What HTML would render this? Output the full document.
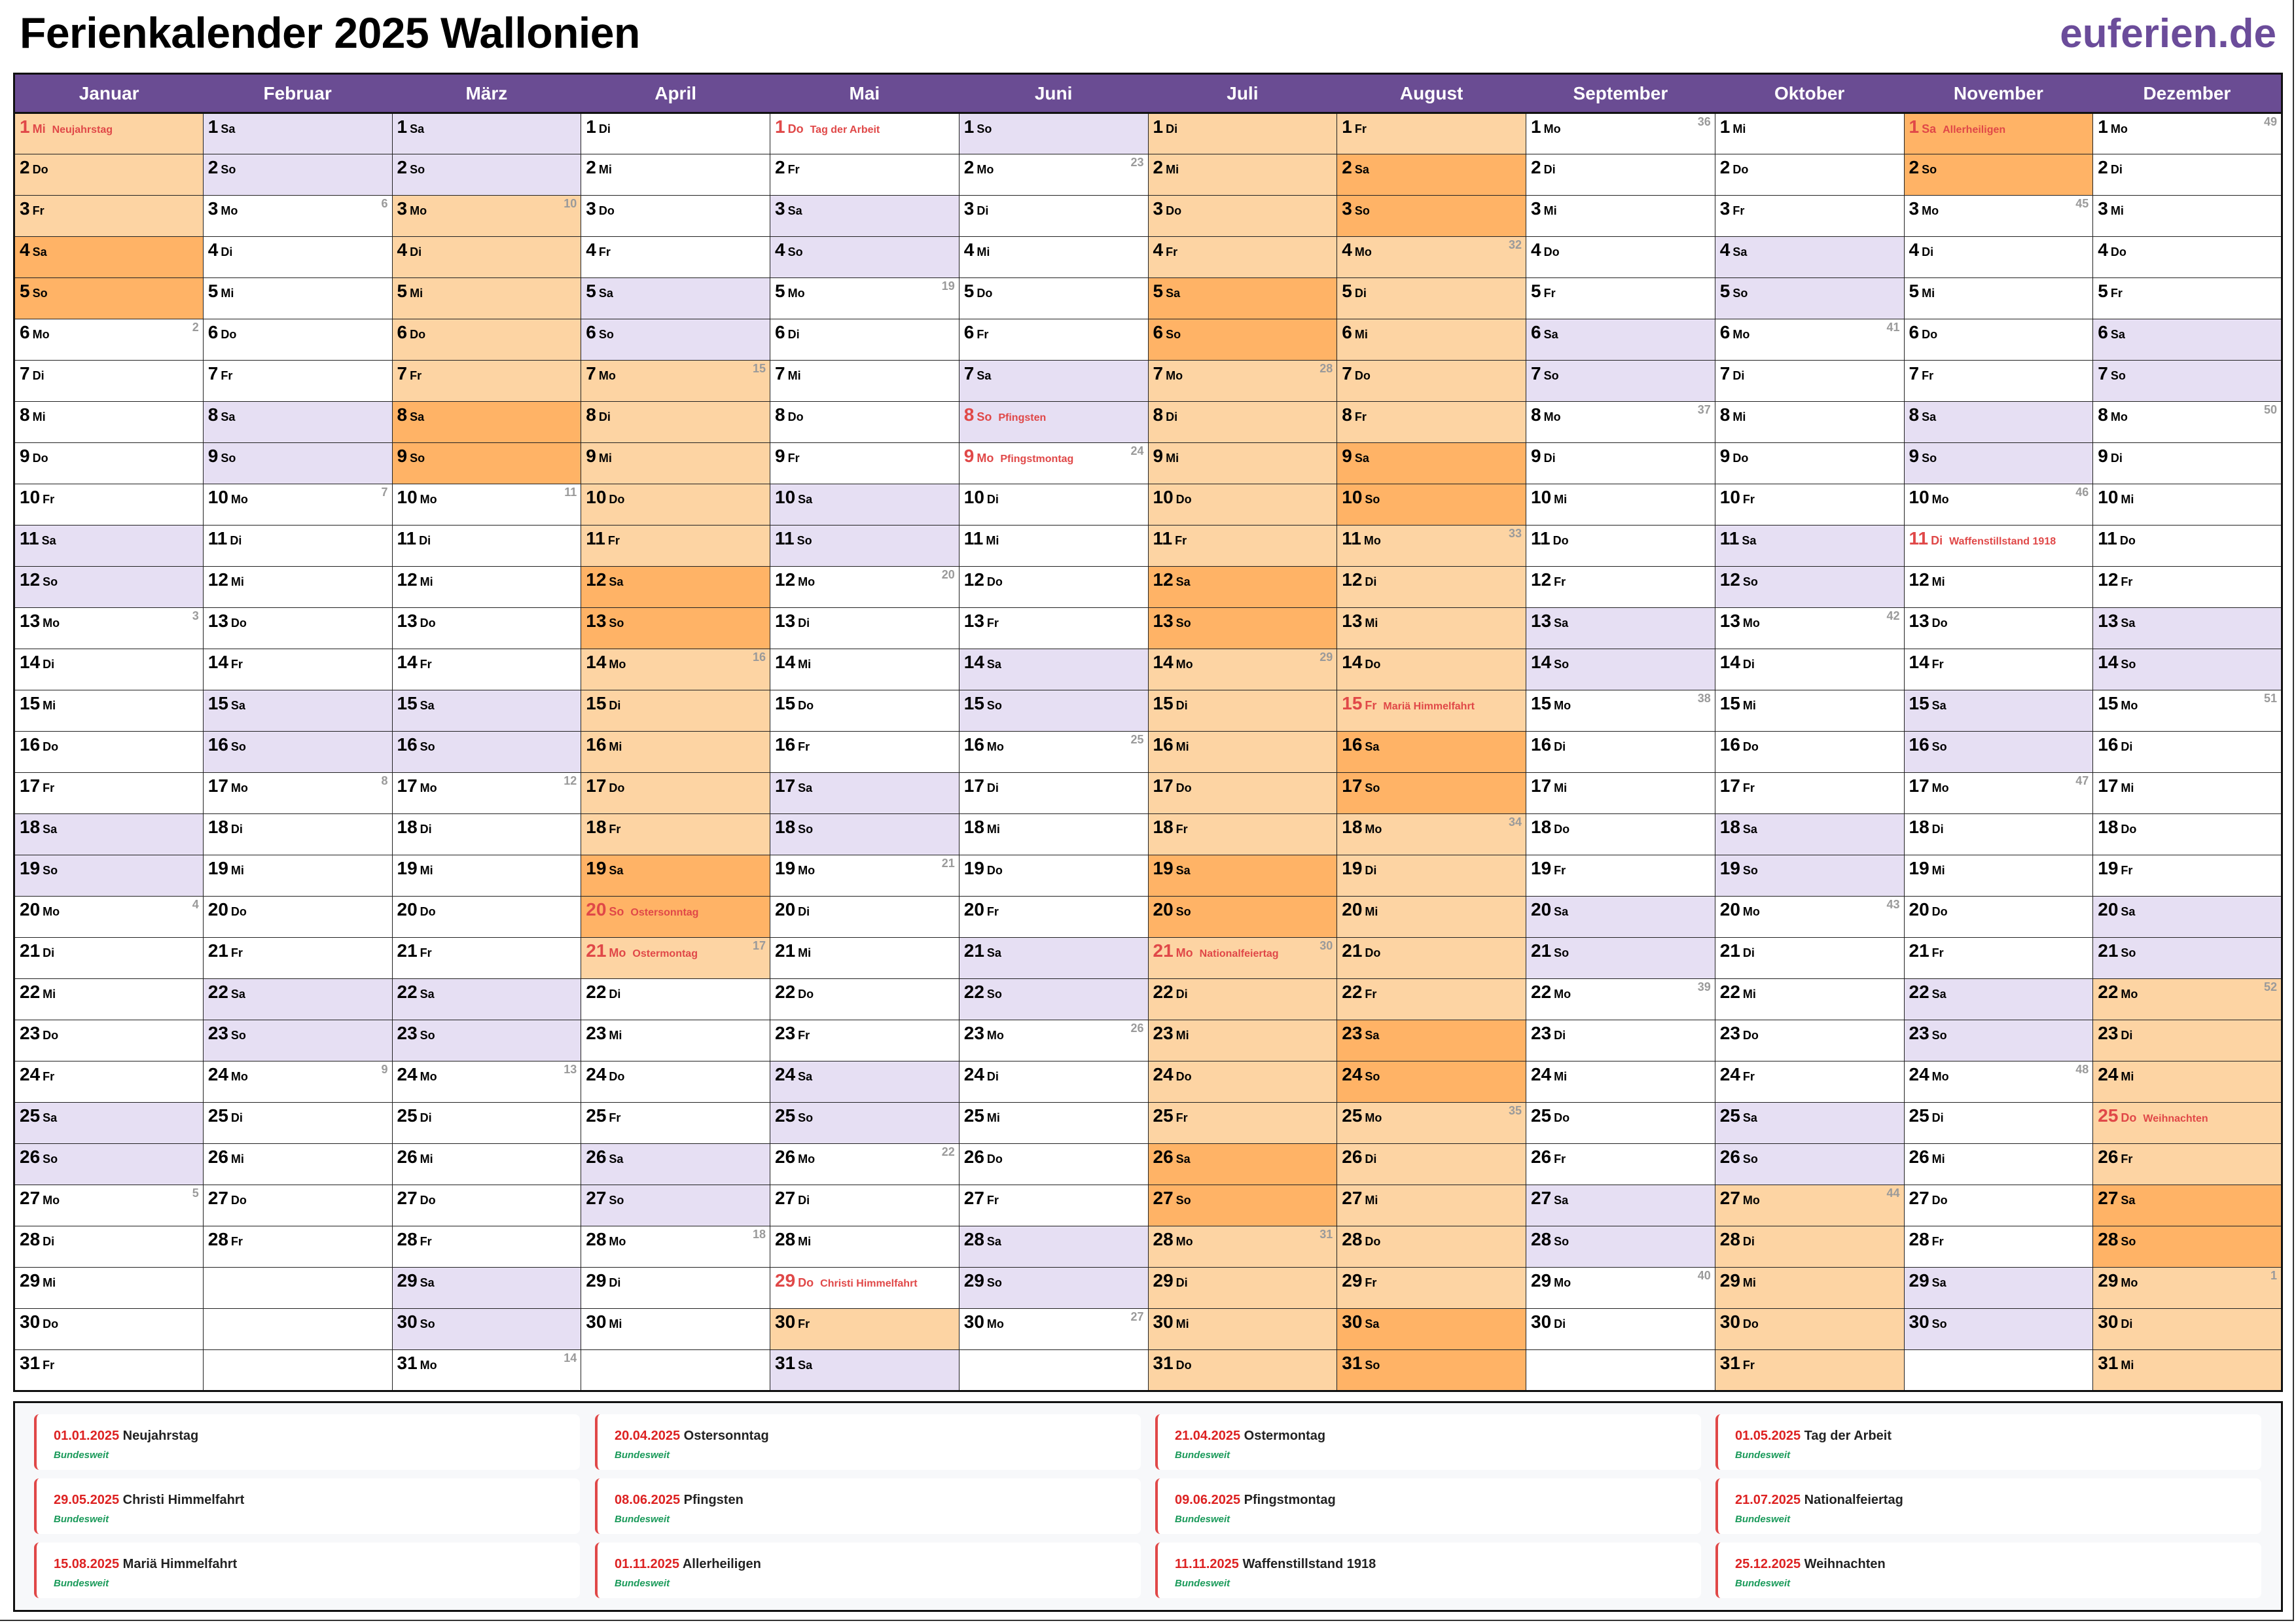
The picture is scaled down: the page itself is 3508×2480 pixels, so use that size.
<!DOCTYPE html>
<html><head><meta charset="utf-8"><style>
html,body{margin:0;padding:0;}
body{width:3508px;height:2480px;position:relative;background:#fff;font-family:"Liberation Sans",Arial,sans-serif;overflow:hidden;}
#title{position:absolute;left:30px;top:12px;font-size:66px;font-weight:bold;color:#000;letter-spacing:-0.5px;}
#logo{position:absolute;right:30px;top:16px;font-size:62px;font-weight:bold;color:#6b4c9a;}
table{position:absolute;left:20px;top:111px;width:3468px;border-collapse:collapse;border:3px solid #111;table-layout:fixed;}
th{height:55px;background:#6a4c93;color:#fff;font-size:28px;font-weight:bold;border:none;border-bottom:3px solid #111;}
td{box-sizing:border-box;height:63px;border:1.5px solid #222;vertical-align:top;padding:5px 0 0 7px;position:relative;white-space:nowrap;overflow:hidden;background:#fff;line-height:30px;}
td b{font-size:28px;font-weight:bold;color:#000;}
td i{font-style:normal;font-weight:bold;font-size:18px;color:#000;margin-left:4px;}
td em{font-style:normal;font-weight:bold;font-size:16px;color:#e04848;margin-left:10px;}
td u{text-decoration:none;position:absolute;right:6px;top:1px;font-size:18px;font-weight:bold;color:#9a9a9a;line-height:22px;}
td.h b,td.h i{color:#e04848;}
.l{background:#e6dff3;}
.p{background:#fdd4a3;}
.o{background:#ffb366;}
#leg{position:absolute;left:20px;top:2141px;width:3462px;height:316px;border:3px solid #111;background:#f7f8fa;}
.c{position:absolute;width:830px;height:85px;background:#fff;border-left:4px solid #e04848;border-radius:8px;}
.c .t{position:absolute;left:26px;top:22px;font-size:20px;font-weight:bold;color:#222;}
.c .t span{color:#dd2222;}
.c .g{position:absolute;left:26px;top:54px;font-size:15px;font-style:italic;font-weight:bold;color:#1a9a5a;}
#fr{position:absolute;left:0;top:0;width:3503px;height:2475px;border-right:2px solid #333;border-bottom:2px solid #333;}
</style></head><body>
<div id="fr"></div>
<div id="title">Ferienkalender 2025 Wallonien</div>
<div id="logo">euferien.de</div>
<table>
<tr><th>Januar</th><th>Februar</th><th>März</th><th>April</th><th>Mai</th><th>Juni</th><th>Juli</th><th>August</th><th>September</th><th>Oktober</th><th>November</th><th>Dezember</th></tr>
<tr><td class="p h"><b>1</b><i>Mi</i><em>Neujahrstag</em></td><td class="l"><b>1</b><i>Sa</i></td><td class="l"><b>1</b><i>Sa</i></td><td><b>1</b><i>Di</i></td><td class="h"><b>1</b><i>Do</i><em>Tag der Arbeit</em></td><td class="l"><b>1</b><i>So</i></td><td class="p"><b>1</b><i>Di</i></td><td class="p"><b>1</b><i>Fr</i></td><td><b>1</b><i>Mo</i><u>36</u></td><td><b>1</b><i>Mi</i></td><td class="o h"><b>1</b><i>Sa</i><em>Allerheiligen</em></td><td><b>1</b><i>Mo</i><u>49</u></td></tr>
<tr><td class="p"><b>2</b><i>Do</i></td><td class="l"><b>2</b><i>So</i></td><td class="l"><b>2</b><i>So</i></td><td><b>2</b><i>Mi</i></td><td><b>2</b><i>Fr</i></td><td><b>2</b><i>Mo</i><u>23</u></td><td class="p"><b>2</b><i>Mi</i></td><td class="o"><b>2</b><i>Sa</i></td><td><b>2</b><i>Di</i></td><td><b>2</b><i>Do</i></td><td class="o"><b>2</b><i>So</i></td><td><b>2</b><i>Di</i></td></tr>
<tr><td class="p"><b>3</b><i>Fr</i></td><td><b>3</b><i>Mo</i><u>6</u></td><td class="p"><b>3</b><i>Mo</i><u>10</u></td><td><b>3</b><i>Do</i></td><td class="l"><b>3</b><i>Sa</i></td><td><b>3</b><i>Di</i></td><td class="p"><b>3</b><i>Do</i></td><td class="o"><b>3</b><i>So</i></td><td><b>3</b><i>Mi</i></td><td><b>3</b><i>Fr</i></td><td><b>3</b><i>Mo</i><u>45</u></td><td><b>3</b><i>Mi</i></td></tr>
<tr><td class="o"><b>4</b><i>Sa</i></td><td><b>4</b><i>Di</i></td><td class="p"><b>4</b><i>Di</i></td><td><b>4</b><i>Fr</i></td><td class="l"><b>4</b><i>So</i></td><td><b>4</b><i>Mi</i></td><td class="p"><b>4</b><i>Fr</i></td><td class="p"><b>4</b><i>Mo</i><u>32</u></td><td><b>4</b><i>Do</i></td><td class="l"><b>4</b><i>Sa</i></td><td><b>4</b><i>Di</i></td><td><b>4</b><i>Do</i></td></tr>
<tr><td class="o"><b>5</b><i>So</i></td><td><b>5</b><i>Mi</i></td><td class="p"><b>5</b><i>Mi</i></td><td class="l"><b>5</b><i>Sa</i></td><td><b>5</b><i>Mo</i><u>19</u></td><td><b>5</b><i>Do</i></td><td class="o"><b>5</b><i>Sa</i></td><td class="p"><b>5</b><i>Di</i></td><td><b>5</b><i>Fr</i></td><td class="l"><b>5</b><i>So</i></td><td><b>5</b><i>Mi</i></td><td><b>5</b><i>Fr</i></td></tr>
<tr><td><b>6</b><i>Mo</i><u>2</u></td><td><b>6</b><i>Do</i></td><td class="p"><b>6</b><i>Do</i></td><td class="l"><b>6</b><i>So</i></td><td><b>6</b><i>Di</i></td><td><b>6</b><i>Fr</i></td><td class="o"><b>6</b><i>So</i></td><td class="p"><b>6</b><i>Mi</i></td><td class="l"><b>6</b><i>Sa</i></td><td><b>6</b><i>Mo</i><u>41</u></td><td><b>6</b><i>Do</i></td><td class="l"><b>6</b><i>Sa</i></td></tr>
<tr><td><b>7</b><i>Di</i></td><td><b>7</b><i>Fr</i></td><td class="p"><b>7</b><i>Fr</i></td><td class="p"><b>7</b><i>Mo</i><u>15</u></td><td><b>7</b><i>Mi</i></td><td class="l"><b>7</b><i>Sa</i></td><td class="p"><b>7</b><i>Mo</i><u>28</u></td><td class="p"><b>7</b><i>Do</i></td><td class="l"><b>7</b><i>So</i></td><td><b>7</b><i>Di</i></td><td><b>7</b><i>Fr</i></td><td class="l"><b>7</b><i>So</i></td></tr>
<tr><td><b>8</b><i>Mi</i></td><td class="l"><b>8</b><i>Sa</i></td><td class="o"><b>8</b><i>Sa</i></td><td class="p"><b>8</b><i>Di</i></td><td><b>8</b><i>Do</i></td><td class="l h"><b>8</b><i>So</i><em>Pfingsten</em></td><td class="p"><b>8</b><i>Di</i></td><td class="p"><b>8</b><i>Fr</i></td><td><b>8</b><i>Mo</i><u>37</u></td><td><b>8</b><i>Mi</i></td><td class="l"><b>8</b><i>Sa</i></td><td><b>8</b><i>Mo</i><u>50</u></td></tr>
<tr><td><b>9</b><i>Do</i></td><td class="l"><b>9</b><i>So</i></td><td class="o"><b>9</b><i>So</i></td><td class="p"><b>9</b><i>Mi</i></td><td><b>9</b><i>Fr</i></td><td class="h"><b>9</b><i>Mo</i><em>Pfingstmontag</em><u>24</u></td><td class="p"><b>9</b><i>Mi</i></td><td class="o"><b>9</b><i>Sa</i></td><td><b>9</b><i>Di</i></td><td><b>9</b><i>Do</i></td><td class="l"><b>9</b><i>So</i></td><td><b>9</b><i>Di</i></td></tr>
<tr><td><b>10</b><i>Fr</i></td><td><b>10</b><i>Mo</i><u>7</u></td><td><b>10</b><i>Mo</i><u>11</u></td><td class="p"><b>10</b><i>Do</i></td><td class="l"><b>10</b><i>Sa</i></td><td><b>10</b><i>Di</i></td><td class="p"><b>10</b><i>Do</i></td><td class="o"><b>10</b><i>So</i></td><td><b>10</b><i>Mi</i></td><td><b>10</b><i>Fr</i></td><td><b>10</b><i>Mo</i><u>46</u></td><td><b>10</b><i>Mi</i></td></tr>
<tr><td class="l"><b>11</b><i>Sa</i></td><td><b>11</b><i>Di</i></td><td><b>11</b><i>Di</i></td><td class="p"><b>11</b><i>Fr</i></td><td class="l"><b>11</b><i>So</i></td><td><b>11</b><i>Mi</i></td><td class="p"><b>11</b><i>Fr</i></td><td class="p"><b>11</b><i>Mo</i><u>33</u></td><td><b>11</b><i>Do</i></td><td class="l"><b>11</b><i>Sa</i></td><td class="h"><b>11</b><i>Di</i><em>Waffenstillstand 1918</em></td><td><b>11</b><i>Do</i></td></tr>
<tr><td class="l"><b>12</b><i>So</i></td><td><b>12</b><i>Mi</i></td><td><b>12</b><i>Mi</i></td><td class="o"><b>12</b><i>Sa</i></td><td><b>12</b><i>Mo</i><u>20</u></td><td><b>12</b><i>Do</i></td><td class="o"><b>12</b><i>Sa</i></td><td class="p"><b>12</b><i>Di</i></td><td><b>12</b><i>Fr</i></td><td class="l"><b>12</b><i>So</i></td><td><b>12</b><i>Mi</i></td><td><b>12</b><i>Fr</i></td></tr>
<tr><td><b>13</b><i>Mo</i><u>3</u></td><td><b>13</b><i>Do</i></td><td><b>13</b><i>Do</i></td><td class="o"><b>13</b><i>So</i></td><td><b>13</b><i>Di</i></td><td><b>13</b><i>Fr</i></td><td class="o"><b>13</b><i>So</i></td><td class="p"><b>13</b><i>Mi</i></td><td class="l"><b>13</b><i>Sa</i></td><td><b>13</b><i>Mo</i><u>42</u></td><td><b>13</b><i>Do</i></td><td class="l"><b>13</b><i>Sa</i></td></tr>
<tr><td><b>14</b><i>Di</i></td><td><b>14</b><i>Fr</i></td><td><b>14</b><i>Fr</i></td><td class="p"><b>14</b><i>Mo</i><u>16</u></td><td><b>14</b><i>Mi</i></td><td class="l"><b>14</b><i>Sa</i></td><td class="p"><b>14</b><i>Mo</i><u>29</u></td><td class="p"><b>14</b><i>Do</i></td><td class="l"><b>14</b><i>So</i></td><td><b>14</b><i>Di</i></td><td><b>14</b><i>Fr</i></td><td class="l"><b>14</b><i>So</i></td></tr>
<tr><td><b>15</b><i>Mi</i></td><td class="l"><b>15</b><i>Sa</i></td><td class="l"><b>15</b><i>Sa</i></td><td class="p"><b>15</b><i>Di</i></td><td><b>15</b><i>Do</i></td><td class="l"><b>15</b><i>So</i></td><td class="p"><b>15</b><i>Di</i></td><td class="p h"><b>15</b><i>Fr</i><em>Mariä Himmelfahrt</em></td><td><b>15</b><i>Mo</i><u>38</u></td><td><b>15</b><i>Mi</i></td><td class="l"><b>15</b><i>Sa</i></td><td><b>15</b><i>Mo</i><u>51</u></td></tr>
<tr><td><b>16</b><i>Do</i></td><td class="l"><b>16</b><i>So</i></td><td class="l"><b>16</b><i>So</i></td><td class="p"><b>16</b><i>Mi</i></td><td><b>16</b><i>Fr</i></td><td><b>16</b><i>Mo</i><u>25</u></td><td class="p"><b>16</b><i>Mi</i></td><td class="o"><b>16</b><i>Sa</i></td><td><b>16</b><i>Di</i></td><td><b>16</b><i>Do</i></td><td class="l"><b>16</b><i>So</i></td><td><b>16</b><i>Di</i></td></tr>
<tr><td><b>17</b><i>Fr</i></td><td><b>17</b><i>Mo</i><u>8</u></td><td><b>17</b><i>Mo</i><u>12</u></td><td class="p"><b>17</b><i>Do</i></td><td class="l"><b>17</b><i>Sa</i></td><td><b>17</b><i>Di</i></td><td class="p"><b>17</b><i>Do</i></td><td class="o"><b>17</b><i>So</i></td><td><b>17</b><i>Mi</i></td><td><b>17</b><i>Fr</i></td><td><b>17</b><i>Mo</i><u>47</u></td><td><b>17</b><i>Mi</i></td></tr>
<tr><td class="l"><b>18</b><i>Sa</i></td><td><b>18</b><i>Di</i></td><td><b>18</b><i>Di</i></td><td class="p"><b>18</b><i>Fr</i></td><td class="l"><b>18</b><i>So</i></td><td><b>18</b><i>Mi</i></td><td class="p"><b>18</b><i>Fr</i></td><td class="p"><b>18</b><i>Mo</i><u>34</u></td><td><b>18</b><i>Do</i></td><td class="l"><b>18</b><i>Sa</i></td><td><b>18</b><i>Di</i></td><td><b>18</b><i>Do</i></td></tr>
<tr><td class="l"><b>19</b><i>So</i></td><td><b>19</b><i>Mi</i></td><td><b>19</b><i>Mi</i></td><td class="o"><b>19</b><i>Sa</i></td><td><b>19</b><i>Mo</i><u>21</u></td><td><b>19</b><i>Do</i></td><td class="o"><b>19</b><i>Sa</i></td><td class="p"><b>19</b><i>Di</i></td><td><b>19</b><i>Fr</i></td><td class="l"><b>19</b><i>So</i></td><td><b>19</b><i>Mi</i></td><td><b>19</b><i>Fr</i></td></tr>
<tr><td><b>20</b><i>Mo</i><u>4</u></td><td><b>20</b><i>Do</i></td><td><b>20</b><i>Do</i></td><td class="o h"><b>20</b><i>So</i><em>Ostersonntag</em></td><td><b>20</b><i>Di</i></td><td><b>20</b><i>Fr</i></td><td class="o"><b>20</b><i>So</i></td><td class="p"><b>20</b><i>Mi</i></td><td class="l"><b>20</b><i>Sa</i></td><td><b>20</b><i>Mo</i><u>43</u></td><td><b>20</b><i>Do</i></td><td class="l"><b>20</b><i>Sa</i></td></tr>
<tr><td><b>21</b><i>Di</i></td><td><b>21</b><i>Fr</i></td><td><b>21</b><i>Fr</i></td><td class="p h"><b>21</b><i>Mo</i><em>Ostermontag</em><u>17</u></td><td><b>21</b><i>Mi</i></td><td class="l"><b>21</b><i>Sa</i></td><td class="p h"><b>21</b><i>Mo</i><em>Nationalfeiertag</em><u>30</u></td><td class="p"><b>21</b><i>Do</i></td><td class="l"><b>21</b><i>So</i></td><td><b>21</b><i>Di</i></td><td><b>21</b><i>Fr</i></td><td class="l"><b>21</b><i>So</i></td></tr>
<tr><td><b>22</b><i>Mi</i></td><td class="l"><b>22</b><i>Sa</i></td><td class="l"><b>22</b><i>Sa</i></td><td><b>22</b><i>Di</i></td><td><b>22</b><i>Do</i></td><td class="l"><b>22</b><i>So</i></td><td class="p"><b>22</b><i>Di</i></td><td class="p"><b>22</b><i>Fr</i></td><td><b>22</b><i>Mo</i><u>39</u></td><td><b>22</b><i>Mi</i></td><td class="l"><b>22</b><i>Sa</i></td><td class="p"><b>22</b><i>Mo</i><u>52</u></td></tr>
<tr><td><b>23</b><i>Do</i></td><td class="l"><b>23</b><i>So</i></td><td class="l"><b>23</b><i>So</i></td><td><b>23</b><i>Mi</i></td><td><b>23</b><i>Fr</i></td><td><b>23</b><i>Mo</i><u>26</u></td><td class="p"><b>23</b><i>Mi</i></td><td class="o"><b>23</b><i>Sa</i></td><td><b>23</b><i>Di</i></td><td><b>23</b><i>Do</i></td><td class="l"><b>23</b><i>So</i></td><td class="p"><b>23</b><i>Di</i></td></tr>
<tr><td><b>24</b><i>Fr</i></td><td><b>24</b><i>Mo</i><u>9</u></td><td><b>24</b><i>Mo</i><u>13</u></td><td><b>24</b><i>Do</i></td><td class="l"><b>24</b><i>Sa</i></td><td><b>24</b><i>Di</i></td><td class="p"><b>24</b><i>Do</i></td><td class="o"><b>24</b><i>So</i></td><td><b>24</b><i>Mi</i></td><td><b>24</b><i>Fr</i></td><td><b>24</b><i>Mo</i><u>48</u></td><td class="p"><b>24</b><i>Mi</i></td></tr>
<tr><td class="l"><b>25</b><i>Sa</i></td><td><b>25</b><i>Di</i></td><td><b>25</b><i>Di</i></td><td><b>25</b><i>Fr</i></td><td class="l"><b>25</b><i>So</i></td><td><b>25</b><i>Mi</i></td><td class="p"><b>25</b><i>Fr</i></td><td class="p"><b>25</b><i>Mo</i><u>35</u></td><td><b>25</b><i>Do</i></td><td class="l"><b>25</b><i>Sa</i></td><td><b>25</b><i>Di</i></td><td class="p h"><b>25</b><i>Do</i><em>Weihnachten</em></td></tr>
<tr><td class="l"><b>26</b><i>So</i></td><td><b>26</b><i>Mi</i></td><td><b>26</b><i>Mi</i></td><td class="l"><b>26</b><i>Sa</i></td><td><b>26</b><i>Mo</i><u>22</u></td><td><b>26</b><i>Do</i></td><td class="o"><b>26</b><i>Sa</i></td><td class="p"><b>26</b><i>Di</i></td><td><b>26</b><i>Fr</i></td><td class="l"><b>26</b><i>So</i></td><td><b>26</b><i>Mi</i></td><td class="p"><b>26</b><i>Fr</i></td></tr>
<tr><td><b>27</b><i>Mo</i><u>5</u></td><td><b>27</b><i>Do</i></td><td><b>27</b><i>Do</i></td><td class="l"><b>27</b><i>So</i></td><td><b>27</b><i>Di</i></td><td><b>27</b><i>Fr</i></td><td class="o"><b>27</b><i>So</i></td><td class="p"><b>27</b><i>Mi</i></td><td class="l"><b>27</b><i>Sa</i></td><td class="p"><b>27</b><i>Mo</i><u>44</u></td><td><b>27</b><i>Do</i></td><td class="o"><b>27</b><i>Sa</i></td></tr>
<tr><td><b>28</b><i>Di</i></td><td><b>28</b><i>Fr</i></td><td><b>28</b><i>Fr</i></td><td><b>28</b><i>Mo</i><u>18</u></td><td><b>28</b><i>Mi</i></td><td class="l"><b>28</b><i>Sa</i></td><td class="p"><b>28</b><i>Mo</i><u>31</u></td><td class="p"><b>28</b><i>Do</i></td><td class="l"><b>28</b><i>So</i></td><td class="p"><b>28</b><i>Di</i></td><td><b>28</b><i>Fr</i></td><td class="o"><b>28</b><i>So</i></td></tr>
<tr><td><b>29</b><i>Mi</i></td><td></td><td class="l"><b>29</b><i>Sa</i></td><td><b>29</b><i>Di</i></td><td class="h"><b>29</b><i>Do</i><em>Christi Himmelfahrt</em></td><td class="l"><b>29</b><i>So</i></td><td class="p"><b>29</b><i>Di</i></td><td class="p"><b>29</b><i>Fr</i></td><td><b>29</b><i>Mo</i><u>40</u></td><td class="p"><b>29</b><i>Mi</i></td><td class="l"><b>29</b><i>Sa</i></td><td class="p"><b>29</b><i>Mo</i><u>1</u></td></tr>
<tr><td><b>30</b><i>Do</i></td><td></td><td class="l"><b>30</b><i>So</i></td><td><b>30</b><i>Mi</i></td><td class="p"><b>30</b><i>Fr</i></td><td><b>30</b><i>Mo</i><u>27</u></td><td class="p"><b>30</b><i>Mi</i></td><td class="o"><b>30</b><i>Sa</i></td><td><b>30</b><i>Di</i></td><td class="p"><b>30</b><i>Do</i></td><td class="l"><b>30</b><i>So</i></td><td class="p"><b>30</b><i>Di</i></td></tr>
<tr><td><b>31</b><i>Fr</i></td><td></td><td><b>31</b><i>Mo</i><u>14</u></td><td></td><td class="l"><b>31</b><i>Sa</i></td><td></td><td class="p"><b>31</b><i>Do</i></td><td class="o"><b>31</b><i>So</i></td><td></td><td class="p"><b>31</b><i>Fr</i></td><td></td><td class="p"><b>31</b><i>Mi</i></td></tr>
</table>
<div id="leg">
<div class="c" style="left:29px;top:17px"><div class="t"><span>01.01.2025</span> Neujahrstag</div><div class="g">Bundesweit</div></div>
<div class="c" style="left:886px;top:17px"><div class="t"><span>20.04.2025</span> Ostersonntag</div><div class="g">Bundesweit</div></div>
<div class="c" style="left:1742px;top:17px"><div class="t"><span>21.04.2025</span> Ostermontag</div><div class="g">Bundesweit</div></div>
<div class="c" style="left:2598px;top:17px"><div class="t"><span>01.05.2025</span> Tag der Arbeit</div><div class="g">Bundesweit</div></div>
<div class="c" style="left:29px;top:115px"><div class="t"><span>29.05.2025</span> Christi Himmelfahrt</div><div class="g">Bundesweit</div></div>
<div class="c" style="left:886px;top:115px"><div class="t"><span>08.06.2025</span> Pfingsten</div><div class="g">Bundesweit</div></div>
<div class="c" style="left:1742px;top:115px"><div class="t"><span>09.06.2025</span> Pfingstmontag</div><div class="g">Bundesweit</div></div>
<div class="c" style="left:2598px;top:115px"><div class="t"><span>21.07.2025</span> Nationalfeiertag</div><div class="g">Bundesweit</div></div>
<div class="c" style="left:29px;top:213px"><div class="t"><span>15.08.2025</span> Mariä Himmelfahrt</div><div class="g">Bundesweit</div></div>
<div class="c" style="left:886px;top:213px"><div class="t"><span>01.11.2025</span> Allerheiligen</div><div class="g">Bundesweit</div></div>
<div class="c" style="left:1742px;top:213px"><div class="t"><span>11.11.2025</span> Waffenstillstand 1918</div><div class="g">Bundesweit</div></div>
<div class="c" style="left:2598px;top:213px"><div class="t"><span>25.12.2025</span> Weihnachten</div><div class="g">Bundesweit</div></div>
</div>
</body></html>
